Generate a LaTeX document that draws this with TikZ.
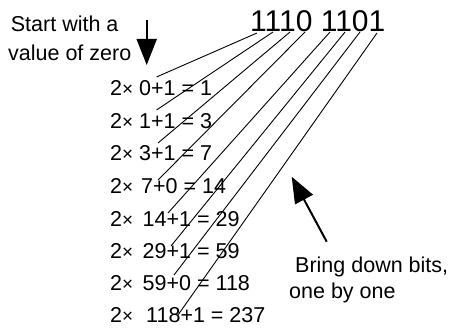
\documentclass[tikz,border=0pt]{standalone}
\usepackage{fontspec}
\setmainfont{Liberation Sans}
\usetikzlibrary{arrows.meta}
\tikzset{
  lbl/.style={anchor=base west, inner sep=0pt, font=\fontsize{21.5}{25}\selectfont},
  rowtxt/.style={anchor=base west, inner sep=0pt, font=\fontsize{21.5}{25}\selectfont},
  bits/.style={anchor=base west, inner sep=0pt, font=\fontsize{30}{34}\selectfont},
  bitline/.style={line width=0.9pt, black},
  bigarrow/.style={line width=2pt, -{Triangle[length=26pt,width=20pt]}}
}
\newcommand{\tms}{{\fontsize{19}{22}\selectfont\texttimes}}
\begin{document}
\begin{tikzpicture}[x=1pt,y=-1pt]
\useasboundingbox (0,0) rectangle (454,328);
% labels
\node[lbl] (s1) at (10.7,31.7) {Start with a};
\node[lbl] (s2) at (8,60.7) {value of zero};
\node[bits] (num) at (250,31.7) {1110 1101};
\node[lbl] (b1) at (295,272) {Bring down bits,};
\node[lbl] (b2) at (289,298.5) {one by one};
% rows
\node[rowtxt] (r1) at (110,96) {2\tms{} 0+1 = 1};
\node[rowtxt] (r2) at (110,128.3) {2\tms{} 1+1 = 3};
\node[rowtxt] (r3) at (110,160.6) {2\tms{} 3+1 = 7};
\node[rowtxt] (r4) at (110,193.5) {2\tms{}\hspace{2pt} 7+0 = 14};
\node[rowtxt] (r5) at (110,226) {2\tms{}\hspace{3.5pt} 14+1 = 29};
\node[rowtxt] (r6) at (110,258) {2\tms{}\hspace{3.5pt} 29+1 = 59};
\node[rowtxt] (r7) at (110,290) {2\tms{}\hspace{3.5pt} 59+0 = 118};
\node[rowtxt] (r8) at (110,322) {2\tms{}\hspace{7pt} 118+1 = 237};
% bit line ends
\coordinate (t1) at (257,33);
\coordinate (t2) at (273,32);
\coordinate (t3) at (290,32);
\coordinate (t4) at (305,32);
\coordinate (t5) at (330,32);
\coordinate (t6) at (345,32);
\coordinate (t7) at (360,32);
\coordinate (t8) at (377,33);
\coordinate (e1) at (156.5,77);
\coordinate (e2) at (156.5,110);
\coordinate (e3) at (158,143);
\coordinate (e4) at (158,180);
\coordinate (e5) at (168,213);
\coordinate (e6) at (171,246);
\coordinate (e7) at (174,275);
\coordinate (e8) at (178,315);
\foreach \i in {1,...,8} { \draw[bitline] (t\i) -- (e\i); }
% arrows
\coordinate (a1s) at (146.7,20);
\coordinate (a1e) at (146.7,65);
\draw[bigarrow] (a1s) -- (a1e);
\coordinate (a2s) at (326.7,241.7);
\coordinate (a2e) at (291.7,176.7);
\draw[bigarrow] (a2s) -- (a2e);
\end{tikzpicture}
\end{document}
